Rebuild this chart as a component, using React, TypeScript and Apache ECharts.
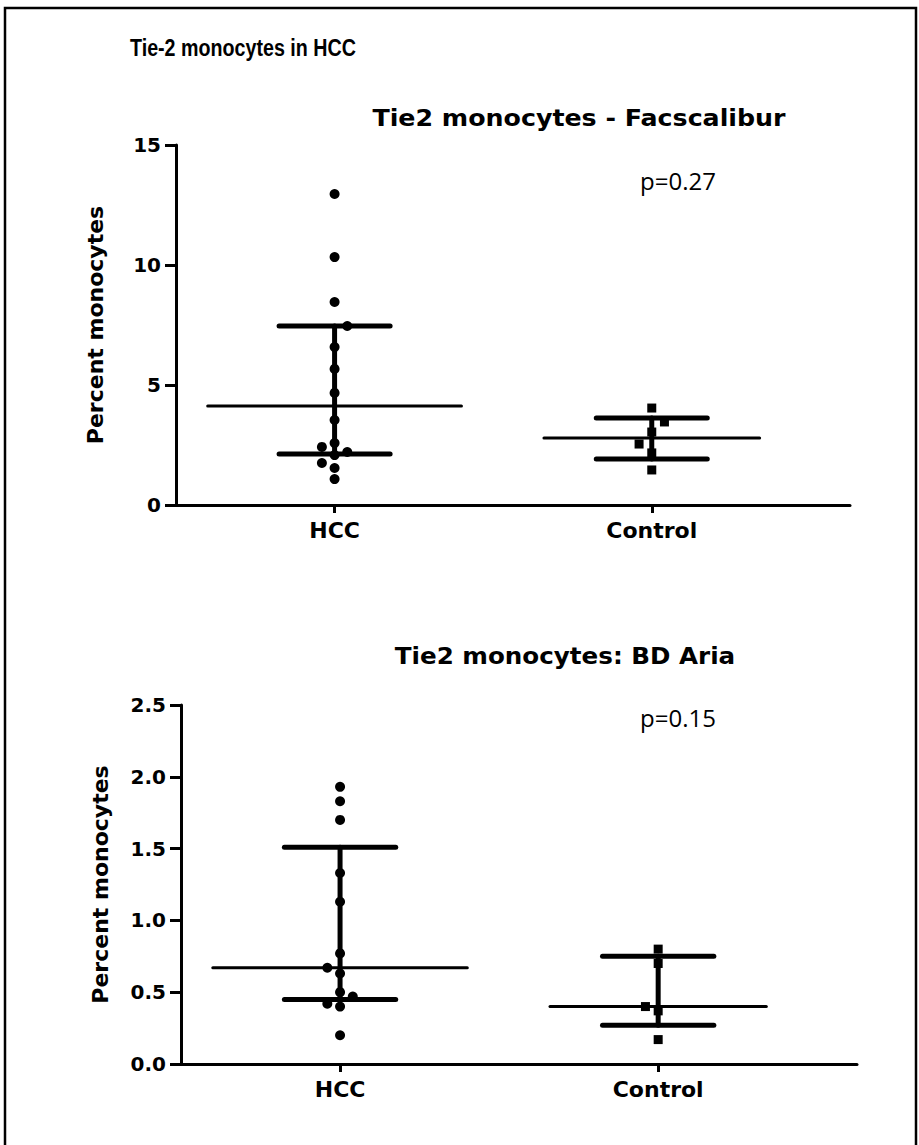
import React, { useEffect, useRef } from "react";
import * as echarts from "echarts";

// ---------- shared ----------
const categories = ["HCC", "Control"];
const categoryPositions = [1, 3];
const mainTitle = "Tie-2 monocytes in HCC";
const yAxisName = "Percent monocytes";

// ---------- panel 1: Facscalibur ----------
const topTitle = "Tie2 monocytes - Facscalibur";
const topPValue = "p=0.27";
const topYMax = 15;
const topYInterval = 5;
const topHccValues = [12.96, 10.33, 8.46, 7.46, 6.58, 5.67, 4.67, 3.54, 2.58, 2.42, 2.21, 2.08, 1.75, 1.54, 1.08];
const topHccSide = [0, 0, 0, 1, 0, 0, 0, 0, 0, -1, 1, 0, -1, 0, 0];
const topControlValues = [4.04, 3.46, 3.04, 2.54, 2.17, 1.46];
const topControlSide = [0, 1, 0, -1, 0, 0];
// [lower bar, centre line, upper bar]
const topHccSummary = [2.13, 4.13, 7.46];
const topControlSummary = [1.92, 2.79, 3.63];

// ---------- panel 2: BD Aria ----------
const bottomTitle = "Tie2 monocytes: BD Aria";
const bottomPValue = "p=0.15";
const bottomYMax = 2.5;
const bottomYInterval = 0.5;
const bottomHccValues = [1.93, 1.83, 1.7, 1.33, 1.13, 0.77, 0.67, 0.63, 0.5, 0.47, 0.42, 0.4, 0.2];
const bottomHccSide = [0, 0, 0, 0, 0, 0, -1, 0, 0, 1, -1, 0, 0];
const bottomControlValues = [0.8, 0.7, 0.4, 0.37, 0.17];
const bottomControlSide = [0, 0, -1, 0, 0];
const bottomHccSummary = [0.45, 0.67, 1.51];
const bottomControlSummary = [0.27, 0.4, 0.75];

const SIDE_STEP = 0.08;
const WHISKER_HALF = 0.35;
const MEAN_HALF = [0.8, 0.68];

const BOLD_FONT = '"Liberation Sans", Arial, sans-serif';
const TICK_FONT = '"DejaVu Sans", Verdana, sans-serif';
const TEXT_FONT = '"Open Sans", "Liberation Sans", sans-serif';

function segment(idx: number, pts: number[][], width: number, z: number) {
  return {
    type: "line",
    xAxisIndex: idx,
    yAxisIndex: idx,
    data: pts,
    showSymbol: false,
    symbol: "none",
    silent: true,
    z,
    lineStyle: { color: "#000", width, cap: "round", opacity: 1 },
  };
}

function columnSeries(idx: number, pos: number, summary: number[], meanHalf: number) {
  const [lo, mid, hi] = summary;
  return [
    segment(idx, [[pos, lo], [pos, hi]], 5, 3),
    segment(idx, [[pos - WHISKER_HALF, hi], [pos + WHISKER_HALF, hi]], 5, 3),
    segment(idx, [[pos - WHISKER_HALF, lo], [pos + WHISKER_HALF, lo]], 5, 3),
    segment(idx, [[pos - meanHalf, mid], [pos + meanHalf, mid]], 3, 3),
  ];
}

function points(idx: number, pos: number, values: number[], side: number[], symbol: string, size: number) {
  return {
    type: "scatter",
    xAxisIndex: idx,
    yAxisIndex: idx,
    symbol,
    symbolSize: size,
    silent: true,
    z: 5,
    itemStyle: { color: "#000", opacity: 1 },
    data: values.map((v, k) => [pos + side[k] * SIDE_STEP, v]),
  };
}

function xAxisDef(idx: number) {
  return {
    type: "value",
    gridIndex: idx,
    min: 0,
    max: 4.25,
    axisLine: { show: true, lineStyle: { color: "#000", width: 3 } },
    axisTick: { show: true, customValues: categoryPositions, length: 8, lineStyle: { color: "#000", width: 3 } },
    axisLabel: {
      customValues: categoryPositions,
      formatter: (v: number) => categories[categoryPositions.indexOf(v)] ?? "",
      fontFamily: TICK_FONT,
      fontWeight: "bold",
      fontSize: 22,
      color: "#000",
      margin: 14,
    },
    splitLine: { show: false },
  };
}

function yAxisDef(idx: number, max: number, interval: number, decimals: number) {
  return {
    type: "value",
    gridIndex: idx,
    min: 0,
    max,
    interval,
    name: yAxisName,
    nameLocation: "middle",
    nameRotate: 90,
    nameGap: 70,
    nameTextStyle: { fontFamily: TICK_FONT, fontWeight: "bold", fontSize: 22, color: "#000" },
    axisLine: { show: true, lineStyle: { color: "#000", width: 3 } },
    axisTick: { show: true, length: 11, lineStyle: { color: "#000", width: 3 } },
    axisLabel: {
      formatter: (v: number) => v.toFixed(decimals),
      fontFamily: TICK_FONT,
      fontWeight: "bold",
      fontSize: 20,
      color: "#000",
      margin: 15,
    },
    splitLine: { show: false },
  };
}

export default function App() {
  const ref = useRef<HTMLDivElement>(null);
  useEffect(() => {
    if (!ref.current) return;
    const chart = echarts.init(ref.current, null, { renderer: "svg" });
    const option: any = {
      animation: false,
      backgroundColor: "#fff",
      grid: [
        { left: 176, top: 145, width: 674, height: 360 },
        { left: 181, top: 705, width: 676, height: 359 },
      ],
      xAxis: [xAxisDef(0), xAxisDef(1)],
      yAxis: [yAxisDef(0, topYMax, topYInterval, 0), yAxisDef(1, bottomYMax, bottomYInterval, 1)],
      series: [
        ...columnSeries(0, categoryPositions[0], topHccSummary, MEAN_HALF[0]),
        ...columnSeries(0, categoryPositions[1], topControlSummary, MEAN_HALF[1]),
        points(0, categoryPositions[0], topHccValues, topHccSide, "circle", 10),
        points(0, categoryPositions[1], topControlValues, topControlSide, "rect", 9),
        ...columnSeries(1, categoryPositions[0], bottomHccSummary, MEAN_HALF[0]),
        ...columnSeries(1, categoryPositions[1], bottomControlSummary, MEAN_HALF[1]),
        points(1, categoryPositions[0], bottomHccValues, bottomHccSide, "circle", 10),
        points(1, categoryPositions[1], bottomControlValues, bottomControlSide, "rect", 9),
      ],
      graphic: [
        {
          type: "rect",
          shape: { x: 5, y: 8, width: 911, height: 1170 },
          style: { fill: "none", stroke: "#000", lineWidth: 2.5 },
          silent: true,
        },
        {
          type: "text",
          x: 130,
          y: 48,
          scaleX: 0.82,
          style: { text: mainTitle, fontFamily: BOLD_FONT, fontWeight: "bold", fontSize: 24, fill: "#000", verticalAlign: "middle", align: "left" },
        },
        {
          type: "text",
          x: 579,
          y: 118,
          scaleX: 1.1,
          style: { text: topTitle, fontFamily: TICK_FONT, fontWeight: "bold", fontSize: 23, fill: "#000", verticalAlign: "middle", align: "center" },
        },
        {
          type: "text",
          x: 640,
          y: 180,
          style: { text: topPValue, fontFamily: TEXT_FONT, fontSize: 24, fill: "#000", verticalAlign: "middle", align: "left" },
        },
        {
          type: "text",
          x: 565,
          y: 656,
          scaleX: 1.07,
          style: { text: bottomTitle, fontFamily: TICK_FONT, fontWeight: "bold", fontSize: 23, fill: "#000", verticalAlign: "middle", align: "center" },
        },
        {
          type: "text",
          x: 640,
          y: 717,
          style: { text: bottomPValue, fontFamily: TEXT_FONT, fontSize: 24, fill: "#000", verticalAlign: "middle", align: "left" },
        },
      ],
    };
    chart.setOption(option);
    return () => chart.dispose();
  }, []);
  return (
    <div
      ref={ref}
      style={{ position: "absolute", left: 0, top: 0, width: 919, height: 1145, background: "#fff" }}
    />
  );
}
